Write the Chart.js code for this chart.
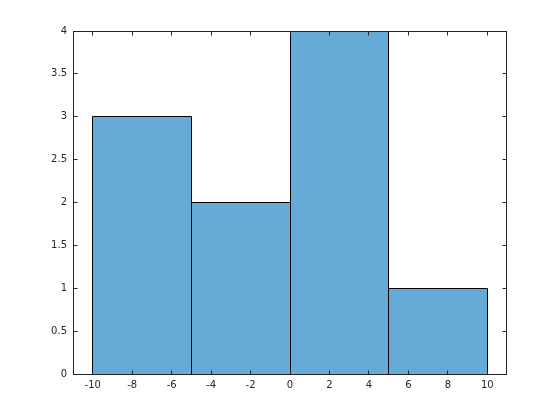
<!DOCTYPE html>
<html>
<head>
<meta charset="utf-8">
<script src="https://cdn.jsdelivr.net/npm/chart.js@4.4.0/dist/chart.umd.min.js"></script>
<style>
  html, body { margin: 0; padding: 0; background: #fff; }
  #wrap { width: 560px; height: 420px; }
</style>
</head>
<body>
<div id="wrap"><canvas id="hist" width="560" height="420"></canvas></div>
<script>
// histogram data
var binEdges = [-10, -5, 0, 5, 10];
var binCounts = [3, 2, 4, 1];
var xTicks = [-10, -8, -6, -4, -2, 0, 2, 4, 6, 8, 10];
var yTicks = [0, 0.5, 1, 1.5, 2, 2.5, 3, 3.5, 4];

var barFill = '#66aad7',
    edgeColor = '#000000',
    axisColor = '#262626';

var points = [];
for (var i = 0; i < binCounts.length; i++) {
  points.push({ x: (binEdges[i] + binEdges[i + 1]) / 2, y: binCounts[i] });
}
// chart.js sizes bars from the smallest tick gap, so stretch to the bin width
var widthRatio = (binEdges[1] - binEdges[0]) / (xTicks[1] - xTicks[0]);

function snap(v) { return Math.floor(v + 1e-6) + 0.5; }

// crisp bar edges, box and inward tick marks, matlab style
var boxTicks = {
  id: 'boxTicks',
  afterDraw: function (chart) {
    var ctx = chart.ctx, a = chart.chartArea;
    var xs = chart.scales.x, ys = chart.scales.y;
    var len = 4;
    var left = snap(a.left), right = snap(a.right) - 1;
    var top = snap(a.top), bottom = snap(a.bottom);
    ctx.save();
    ctx.lineWidth = 1;

    // bar outlines along the bin edges
    ctx.strokeStyle = edgeColor;
    ctx.beginPath();
    binCounts.forEach(function (c, i) {
      var l = snap(xs.getPixelForValue(binEdges[i]));
      var r = snap(xs.getPixelForValue(binEdges[i + 1]));
      var t = snap(ys.getPixelForValue(c));
      var b = snap(ys.getPixelForValue(0));
      ctx.moveTo(l, b); ctx.lineTo(l, t); ctx.lineTo(r, t); ctx.lineTo(r, b);
    });
    ctx.stroke();

    ctx.strokeStyle = axisColor;
    ctx.beginPath();
    xTicks.forEach(function (v) {
      var px = snap(xs.getPixelForValue(v));
      ctx.moveTo(px, bottom); ctx.lineTo(px, bottom - len);
      ctx.moveTo(px, top); ctx.lineTo(px, top + len);
    });
    yTicks.forEach(function (v) {
      var py = snap(ys.getPixelForValue(v));
      ctx.moveTo(left, py); ctx.lineTo(left + len, py);
      ctx.moveTo(right, py); ctx.lineTo(right - len, py);
    });
    ctx.stroke();
    ctx.strokeRect(left, top, right - left, bottom - top);
    ctx.restore();
  }
};

var ctx = document.getElementById('hist');
var chart = new Chart(ctx, {
  type: 'bar',
  data: {
    datasets: [{
      data: points,
      backgroundColor: barFill,
      borderWidth: 0,
      barPercentage: widthRatio,
      categoryPercentage: 1
    }]
  },
  options: {
    responsive: false,
    animation: false,
    layout: { padding: { top: 31, right: 53, left: 0, bottom: 0 } },
    plugins: { legend: { display: false }, tooltip: { enabled: false } },
    scales: {
      x: {
        type: 'linear',
        min: -11,
        max: 11,
        offset: false,
        afterBuildTicks: function (s) { s.ticks = xTicks.map(function (v) { return { value: v }; }); },
        afterFit: function (s) { s.height = 46; },
        grid: { display: false, drawTicks: false },
        border: { display: false },
        ticks: {
          color: axisColor,
          font: { family: 'DejaVu Sans', size: 10 },
          padding: 5,
          maxRotation: 0,
          callback: function (v) { return String(v); }
        }
      },
      y: {
        min: 0,
        max: 4,
        afterBuildTicks: function (s) { s.ticks = yTicks.map(function (v) { return { value: v }; }); },
        afterFit: function (s) { s.width = 73; },
        grid: { display: false, drawTicks: false },
        border: { display: false },
        ticks: {
          color: axisColor,
          font: { family: 'DejaVu Sans', size: 10 },
          padding: 6,
          callback: function (v) { return String(v); }
        }
      }
    }
  },
  plugins: [boxTicks]
});
</script>
</body>
</html>
